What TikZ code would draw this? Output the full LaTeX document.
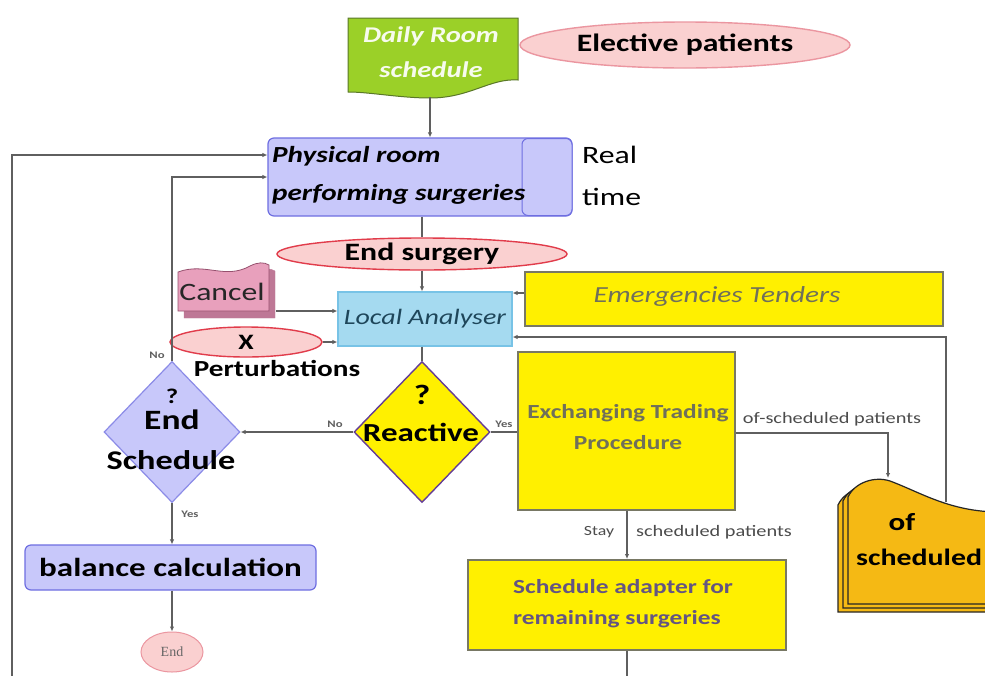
\documentclass[tikz,border=0pt]{standalone}
\usepackage{fontspec}
\setmainfont{Carlito}[FakeStretch=1.27]
\newfontfamily\serifend{Liberation Serif}
\usetikzlibrary{shapes.geometric,arrows.meta,calc}
\newcommand\fsz[1]{\fontsize{#1}{#1}\selectfont}
\definecolor{cgreen}{RGB}{155,208,40}
\definecolor{cgreenb}{RGB}{90,120,40}
\definecolor{cpink}{RGB}{250,208,208}
\definecolor{cpinkb}{RGB}{225,60,75}
\definecolor{cpinkl}{RGB}{235,150,160}
\definecolor{clav}{RGB}{200,200,250}
\definecolor{clavb}{RGB}{110,110,225}
\definecolor{ccyan}{RGB}{165,218,240}
\definecolor{ccyanb}{RGB}{120,195,230}
\definecolor{cyel}{RGB}{255,240,0}
\definecolor{cyelb}{RGB}{120,120,100}
\definecolor{corange}{RGB}{245,185,20}
\definecolor{cline}{RGB}{95,95,95}
\definecolor{ccancel}{RGB}{232,160,188}
\definecolor{ccancelb}{RGB}{150,80,110}
\definecolor{cshadow}{RGB}{190,120,150}
\definecolor{cgraytext}{RGB}{112,112,90}
\definecolor{cpurtext}{RGB}{100,85,130}
\definecolor{cteal}{RGB}{30,70,90}
\definecolor{cviolet}{RGB}{100,60,150}
\tikzset{
  line/.style={draw=cline, line width=1.6pt},
  arr/.style={line, -{Latex[length=5pt,width=4.5pt]}},
  pinkell/.style={ellipse, fill=cpink, draw=cpinkb, line width=1.4pt, inner sep=0pt},
  yelbox/.style={rectangle, fill=cyel, draw=cyelb, line width=2pt, inner sep=0pt},
  lavbox/.style={rectangle, rounded corners=6pt, fill=clav, draw=clavb, line width=1.2pt, inner sep=0pt},
  dia/.style={diamond, inner sep=0pt, minimum width=136pt, minimum height=141pt},
  lbl/.style={font=\fsz{10}\bfseries, text=cline, inner sep=0pt},
  plain/.style={inner sep=0pt}
}
\begin{document}
\begin{tikzpicture}[x=1pt,y=-1pt]
\clip (0,0) rectangle (985,675);
\fill[white] (0,0) rectangle (985,675);

% Daily Room schedule (document shape)
\filldraw[fill=cgreen, draw=cgreenb, line width=1pt]
  (348,18) -- (518,18) -- (518,80)
  .. controls (490,78) and (470,98) .. (430,98)
  .. controls (400,98) and (370,92) .. (348,92) -- cycle;
\node[plain, text=white!92!cgreen, align=center, font=\fsz{22.5}\bfseries\itshape] (drs) at (431,52)
  {Daily Room\\[12pt]schedule};
\coordinate (drsb) at (430,97);

% Elective patients
\node[pinkell, draw=cpinkl, minimum width=330pt, minimum height=46pt, font=\fsz{25}\bfseries] (elec) at (685,45) {Elective patients};

% Physical room
\node[lavbox, minimum width=304pt, minimum height=78pt] (phys) at (420,177) {};
\node[rectangle, rounded corners=6pt, fill=clav, draw=clavb, line width=1pt, minimum width=50pt, minimum height=77pt, inner sep=0pt] (physin) at (547,177) {};
\node[plain, anchor=west, align=left, font=\fsz{23}\bfseries\itshape] (physt) at (272,175)
  {Physical room\\[15pt]performing surgeries};
\node[plain, anchor=west, align=left, font=\fsz{25}] (rt) at (582,176) {Real\\[17pt]time};

% End surgery
\node[pinkell, minimum width=290pt, minimum height=32pt, font=\fsz{25}\bfseries] (ends) at (422,254) {End surgery};

% Local Analyser
\node[rectangle, fill=ccyan, draw=ccyanb, line width=1.2pt, minimum width=174pt, minimum height=54pt, inner sep=0pt, font=\fsz{22}\itshape, text=cteal] (la) at (425,319) {Local Analyser};

% Emergencies Tenders
\node[yelbox, minimum width=418pt, minimum height=54pt] (em) at (734,299) {};
\node[plain, font=\fsz{23}\itshape, text=cgraytext] (emt) at (717,296) {Emergencies Tenders};

% Cancel
\filldraw[fill=cshadow, draw=cshadow]
  (184,278) .. controls (210,268) and (230,286) .. (256,272)
  .. controls (264,268) and (270,268) .. (275,271) -- (275,318) -- (184,318) -- cycle;
\filldraw[fill=ccancel, draw=ccancelb, line width=0.8pt]
  (178,272) .. controls (205,262) and (225,280) .. (250,266)
  .. controls (258,262) and (264,262) .. (269,265) -- (269,311) -- (178,311) -- cycle;
\node[plain, font=\fsz{25}, text=black!85] (cancel) at (222,292) {Cancel};
\coordinate (cancelr) at (276,311);

% X perturbations
\node[pinkell, minimum width=152pt, minimum height=30pt, font=\fsz{22}\bfseries] (xe) at (246,342) {X};
\node[plain, font=\fsz{23}\bfseries] (pert) at (277,368) {Perturbations};

% Reactive diamond
\node[dia, fill=cyel, draw=cviolet, line width=1.4pt] (rea) at (422,432) {};
\node[plain, font=\fsz{28}\bfseries] (reaq) at (422,395) {?};
\node[plain, font=\fsz{26}\bfseries] (reat) at (421,432) {Reactive};

% End Schedule diamond
\node[dia, fill=clav, draw=clavb!80, line width=1.2pt] (es) at (172,432) {};
\node[plain, font=\fsz{21}\bfseries] (esq) at (172,396) {?};
\node[plain, font=\fsz{28}\bfseries] (ese) at (172,420) {End};
\node[plain, font=\fsz{27}\bfseries] (ess) at (171,460) {Schedule};

% Exchanging Trading Procedure
\node[yelbox, minimum width=217pt, minimum height=158pt] (etp) at (626.5,431) {};
\node[plain, align=center, font=\fsz{20}\bfseries, text=cgraytext] (etpt) at (628,427)
  {Exchanging Trading\\[11pt]Procedure};

% Schedule adapter
\node[yelbox, minimum width=318pt, minimum height=90pt] (sa) at (627,605) {};
\node[plain, anchor=west, align=left, font=\fsz{20}\bfseries, text=cpurtext] (sat) at (513,604)
  {Schedule adapter for\\[11pt]remaining surgeries};
\coordinate (saout) at (627,690);

% balance calculation
\node[lavbox, minimum width=291pt, minimum height=45pt, font=\fsz{26}\bfseries] (bc) at (170.5,567.5) {balance calculation};

% End
\node[ellipse, fill=cpink, draw=cpinkl, line width=1pt, minimum width=62pt, minimum height=40pt, inner sep=0pt, font=\fsz{14}\serifend, text=black!60] (endn) at (172,652) {End};

% of scheduled (multi document)
\foreach \dx/\dy in {-10/8,-5/4,0/0}{
  \filldraw[fill=corange, draw=black!85, line width=1.2pt, shift={(\dx,\dy)}]
    (848,497) .. controls (855,482) and (875,476) .. (890,481)
    .. controls (920,492) and (950,512) .. (1000,512) -- (1000,604) -- (848,604) -- cycle;
}
\node[plain, font=\fsz{24.5}\bfseries] (osdof) at (902,522) {of};
\node[plain, anchor=west, font=\fsz{23.5}\bfseries] (osds) at (856,557) {scheduled};
\coordinate (osdtop) at (888,478);
\coordinate (osdr) at (946,502);
\coordinate (ofsturn) at (888,433);

% loop start
\coordinate (loopstart) at (12,690);

% ---- connectors ----
\draw[arr] (drsb) -- (drsb |- phys.north);
\draw[line] (phys.south -| ends.north) -- (ends.north);
\draw[arr] (ends.south) -- (ends.south |- la.north);
\draw[arr] ([yshift=6pt]em.west) -- ([yshift=6pt]em.west -| la.east);
\draw[arr] (cancelr) -- (cancelr -| la.west);
\draw[arr] (xe.east) -- (xe.east -| la.west);
\draw[line] (la.south -| rea.north) -- (rea.north);
\draw[arr] (rea.west) -- (es.east);
\node[lbl] (lno1) at (335,424) {No};
\draw[line] (rea.east) -- (rea.east -| etp.west);
\node[lbl] (lyes1) at (504,424) {Yes};
\draw[arr] (etp.east |- ofsturn) -- (ofsturn) -- (osdtop);
\node[plain, font=\fsz{16}, text=black!70] (ofsl) at (832,419) {of-scheduled patients};
\draw[arr] (osdr) |- ([yshift=-18pt]la.east);
\draw[arr] (etp.south -| sa.north) -- (sa.north);
\node[plain, font=\fsz{14}, text=black!70] (stay) at (599,532) {Stay};
\node[plain, anchor=west, font=\fsz{16}, text=black!70] (schp) at (636,532) {scheduled patients};
\draw[line] (sa.south) -- (saout);
\draw[arr] (es.north) |- (phys.west);
\node[lbl] (lno2) at (157,355) {No};
\draw[arr] (es.south) -- (bc.north -| es.south);
\node[lbl] (lyes2) at (190,514) {Yes};
\draw[arr] (bc.south -| endn.north) -- (endn.north);
\draw[arr] (loopstart) |- ([yshift=22pt]phys.west);
\end{tikzpicture}
\end{document}
